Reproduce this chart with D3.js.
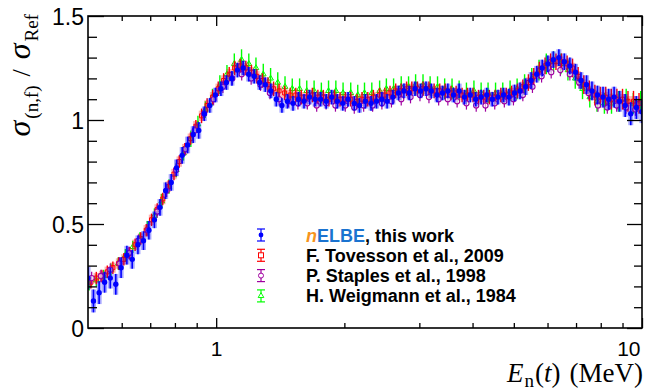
<!DOCTYPE html>
<html><head><meta charset="utf-8">
<script src="https://cdn.jsdelivr.net/npm/d3@7/dist/d3.min.js"></script>
<style>body{margin:0;background:#fff}svg{display:block}</style>
</head><body><svg id="c" width="658" height="392"></svg>
<script>
// ---------- axis ticks / labels ----------
const xMajorTicks = [1, 10];
const xTickLabels = ["1", "10"];
const xMinorTicks = [0.6, 0.7, 0.8, 0.9, 2, 3, 4, 5, 6, 7, 8, 9];
const yMajorTicks = [0, 0.5, 1, 1.5];
const yTickLabels = ["0", "0.5", "1", "1.5"];
const yMinorTicks = [0.1, 0.2, 0.3, 0.4, 0.6, 0.7, 0.8, 0.9, 1.1, 1.2, 1.3, 1.4];
const legendLabels = ["nELBE, this work", "F. Tovesson et al., 2009", "P. Staples et al., 1998", "H. Weigmann et al., 1984"];

// ---------- nELBE, this work ----------
const eNelbe = [0.500,0.515,0.531,0.547,0.564,0.581,0.598,0.617,0.635,0.655,
0.675,0.695,0.716,0.738,0.761,0.784,0.807,0.832,0.857,0.883,
0.910,0.938,0.966,0.996,1.026,1.057,1.089,1.122,1.157,1.192,
1.228,1.265,1.304,1.344,1.384,1.427,1.470,1.515,1.561,1.608,
1.657,1.707,1.759,1.813,1.868,1.925,1.983,2.04,2.11,2.17,
2.24,2.31,2.38,2.45,2.52,2.60,2.68,2.76,2.84,2.93,
3.02,3.11,3.20,3.30,3.40,3.50,3.61,3.72,3.83,3.95,
4.07,4.19,4.32,4.45,4.59,4.73,4.87,5.02,5.17,5.33,
5.49,5.66,5.83,6.01,6.19,6.38,6.57,6.77,6.98,7.19,
7.41,7.63,7.86,8.10,8.35,8.60,8.86,9.13,9.41,9.70,9.99];
const vNelbe = [0.24,0.13,0.17,0.22,0.24,0.21,0.29,0.35,0.33,0.40,
0.42,0.47,0.52,0.58,0.66,0.70,0.77,0.83,0.88,0.93,
0.95,1.03,1.07,1.12,1.15,1.18,1.20,1.24,1.25,1.22,
1.21,1.18,1.17,1.14,1.10,1.07,1.09,1.08,1.10,1.09,
1.11,1.10,1.10,1.09,1.11,1.09,1.08,1.10,1.08,1.07,
1.09,1.08,1.09,1.10,1.09,1.11,1.13,1.14,1.13,1.15,
1.14,1.15,1.14,1.12,1.13,1.14,1.12,1.14,1.11,1.12,
1.10,1.11,1.12,1.10,1.11,1.12,1.11,1.13,1.14,1.16,
1.19,1.22,1.25,1.27,1.29,1.30,1.28,1.26,1.23,1.19,
1.17,1.14,1.12,1.11,1.10,1.11,1.09,1.07,1.03,1.06,1.04];
const errNelbe = [0.055,0.055,0.055,0.05,0.05,0.05,0.05,0.045,0.045,0.045,
0.045,0.045,0.04,0.04,0.04,0.04,0.04,0.04,0.04,0.04,
0.04,0.035,0.035,0.035,0.035,0.035,0.035,0.035,0.035,0.035,
0.035,0.035,0.035,0.035,0.035,0.035,0.035,0.035,0.035,0.035,
0.035,0.035,0.035,0.035,0.035,0.035,0.035,0.035,0.035,0.035,
0.035,0.035,0.035,0.035,0.035,0.035,0.035,0.035,0.035,0.035,
0.035,0.035,0.035,0.035,0.035,0.035,0.035,0.035,0.035,0.035,
0.035,0.035,0.035,0.035,0.035,0.035,0.04,0.04,0.04,0.04,
0.04,0.04,0.04,0.04,0.04,0.04,0.04,0.04,0.04,0.04,
0.045,0.045,0.045,0.05,0.05,0.05,0.05,0.055,0.055,0.055,0.055];

// ---------- F. Tovesson et al., 2009 ----------
const eTovesson = [0.508,0.523,0.539,0.555,0.572,0.590,0.607,0.626,0.645,0.665,
0.685,0.705,0.727,0.749,0.772,0.796,0.819,0.844,0.870,0.896,
0.924,0.952,0.981,1.011,1.041,1.073,1.105,1.139,1.174,1.210,
1.246,1.284,1.323,1.364,1.405,1.448,1.492,1.538,1.584,1.632,
1.682,1.733,1.785,1.840,1.896,1.954,2.01,2.07,2.14,2.20,
2.27,2.34,2.42,2.49,2.56,2.64,2.72,2.80,2.88,2.97,
3.06,3.16,3.25,3.35,3.45,3.56,3.66,3.78,3.89,4.01,
4.13,4.25,4.38,4.52,4.66,4.80,4.94,5.10,5.25,5.41,
5.57,5.74,5.92,6.10,6.28,6.47,6.67,6.87,7.08,7.30,
7.52,7.75,7.98,8.22,8.47,8.73,9.00,9.27,9.55,9.84];
const vTovesson = [0.22,0.24,0.25,0.27,0.29,0.31,0.33,0.36,0.40,0.43,
0.47,0.52,0.57,0.62,0.68,0.74,0.80,0.86,0.91,0.97,
1.02,1.07,1.11,1.15,1.19,1.22,1.25,1.26,1.25,1.23,
1.21,1.19,1.17,1.15,1.14,1.13,1.12,1.12,1.11,1.11,
1.12,1.11,1.11,1.10,1.11,1.10,1.10,1.10,1.09,1.10,
1.10,1.11,1.12,1.12,1.13,1.14,1.14,1.15,1.15,1.15,
1.15,1.15,1.14,1.14,1.14,1.13,1.13,1.12,1.12,1.12,
1.11,1.11,1.11,1.11,1.12,1.12,1.13,1.14,1.16,1.18,
1.21,1.24,1.26,1.28,1.28,1.28,1.27,1.25,1.21,1.17,
1.14,1.12,1.11,1.11,1.10,1.10,1.10,1.09,1.09,1.08];
const errTovesson = [0.03,0.03,0.03,0.03,0.03,0.03,0.03,0.03,0.03,0.03,
0.03,0.03,0.03,0.03,0.03,0.03,0.03,0.03,0.03,0.03,
0.035,0.035,0.035,0.035,0.035,0.035,0.035,0.035,0.035,0.035,
0.035,0.035,0.035,0.035,0.035,0.035,0.035,0.035,0.035,0.035,
0.035,0.035,0.035,0.035,0.035,0.035,0.035,0.035,0.035,0.035,
0.035,0.035,0.035,0.035,0.035,0.035,0.035,0.035,0.035,0.035,
0.035,0.035,0.035,0.035,0.035,0.035,0.035,0.035,0.035,0.035,
0.035,0.035,0.035,0.035,0.035,0.035,0.035,0.035,0.035,0.04,
0.04,0.04,0.04,0.04,0.04,0.04,0.04,0.045,0.045,0.045,
0.05,0.05,0.05,0.05,0.05,0.05,0.05,0.05,0.05,0.05];
const sysTovesson = 0.025;

// ---------- P. Staples et al., 1998 ----------
const eStaples = [0.510,0.536,0.564,0.593,0.624,0.657,0.691,0.727,0.765,0.805,
0.847,0.891,0.937,0.986,1.037,1.091,1.148,1.208,1.271,1.337,
1.406,1.479,1.556,1.637,1.722,1.812,1.906,2.01,2.11,2.22,
2.33,2.45,2.58,2.72,2.86,3.01,3.16,3.33,3.50,3.68,
3.87,4.08,4.29,4.51,4.75,4.99,5.25,5.53,5.81,6.12,
6.43,6.77,7.12,7.49,7.88,8.29,8.72,9.17,9.65];
const vStaples = [0.24,0.25,0.28,0.31,0.36,0.42,0.47,0.56,0.66,0.76,
0.86,0.95,1.03,1.10,1.16,1.20,1.22,1.20,1.17,1.13,
1.10,1.09,1.08,1.08,1.07,1.08,1.07,1.07,1.06,1.07,
1.07,1.08,1.09,1.10,1.11,1.12,1.11,1.10,1.10,1.09,
1.08,1.07,1.07,1.08,1.09,1.10,1.12,1.16,1.21,1.23,
1.24,1.22,1.18,1.13,1.07,1.06,1.07,1.06,1.05];
const errStaples = [0.03,0.03,0.03,0.03,0.03,0.03,0.03,0.03,0.03,0.03,
0.03,0.03,0.03,0.03,0.03,0.03,0.03,0.03,0.03,0.03,
0.03,0.03,0.03,0.03,0.03,0.03,0.03,0.03,0.03,0.03,
0.03,0.03,0.03,0.03,0.03,0.03,0.03,0.03,0.03,0.03,
0.03,0.03,0.03,0.03,0.03,0.03,0.03,0.03,0.03,0.03,
0.03,0.03,0.03,0.03,0.03,0.03,0.03,0.03,0.03];

// ---------- H. Weigmann et al., 1984 ----------
const eWeigmann = [0.503,0.523,0.544,0.566,0.589,0.612,0.637,0.662,0.689,0.716,
0.745,0.775,0.806,0.838,0.872,0.906,0.943,0.980,1.020,1.060,
1.103,1.147,1.193,1.240,1.290,1.342,1.395,1.451,1.509,1.570,
1.632,1.698,1.766,1.836,1.910,1.986,2.07,2.15,2.23,2.32,
2.42,2.51,2.61,2.72,2.83,2.94,3.06,3.18,3.31,3.44,
3.58,3.72,3.87,4.03,4.19,4.35,4.53,4.71,4.90,5.09,
5.30,5.51,5.73,5.96,6.20,6.45,6.70,6.97,7.25,7.54,
7.84,8.16,8.48,8.82,9.18,9.54,9.93];
const vWeigmann = [0.21,0.23,0.25,0.28,0.31,0.35,0.39,0.43,0.48,0.54,
0.61,0.68,0.76,0.84,0.91,0.98,1.05,1.11,1.17,1.22,
1.27,1.29,1.27,1.25,1.22,1.20,1.18,1.16,1.15,1.15,
1.14,1.14,1.13,1.14,1.14,1.13,1.13,1.12,1.13,1.13,
1.14,1.15,1.15,1.16,1.16,1.17,1.17,1.16,1.16,1.15,
1.15,1.14,1.13,1.14,1.13,1.13,1.13,1.13,1.14,1.15,
1.17,1.20,1.24,1.27,1.28,1.27,1.24,1.20,1.15,1.11,
1.09,1.08,1.08,1.09,1.10,1.08,1.09];
const errWeigmann = [0.03,0.03,0.03,0.03,0.03,0.03,0.03,0.03,0.035,0.035,
0.035,0.035,0.035,0.035,0.04,0.04,0.04,0.04,0.045,0.045,
0.05,0.05,0.05,0.05,0.05,0.05,0.05,0.05,0.05,0.05,
0.05,0.05,0.05,0.05,0.05,0.05,0.05,0.05,0.05,0.05,
0.05,0.05,0.05,0.05,0.05,0.05,0.05,0.05,0.05,0.05,
0.05,0.05,0.05,0.05,0.05,0.05,0.05,0.05,0.05,0.05,
0.05,0.05,0.05,0.05,0.05,0.05,0.05,0.05,0.05,0.05,
0.05,0.05,0.05,0.05,0.05,0.05,0.05];

// ---------- layout ----------
const L = 88, R = 642, T = 16, B = 328;
const svg = d3.select("#c");
const x = d3.scaleLog().domain([0.5, 10]).range([L, R]);
const y = d3.scaleLinear().domain([0, 1.5]).range([B, T]);

svg.append("defs").append("clipPath").attr("id", "clip")
  .append("rect").attr("x", L).attr("y", T).attr("width", R - L).attr("height", B - T);
const plot = svg.append("g").attr("clip-path", "url(#clip)");

function pts(E, V, Err) {
  const n = Math.min(E.length, V.length, Err.length);
  const out = [];
  for (let i = 0; i < n; i++) out.push({e: E[i], v: V[i], err: Err[i], i});
  return out;
}

const COL_BLUE = "#0000ff", COL_RED = "#ff0000", COL_PURP = "#a000a0", COL_GREEN = "#00ff00";

// Weigmann (green): thin error bars, open triangles
(function () {
  const d = pts(eWeigmann, vWeigmann, errWeigmann);
  const g = plot.append("g");
  g.selectAll("line").data(d).join("line")
    .attr("x1", p => x(p.e)).attr("x2", p => x(p.e))
    .attr("y1", p => y(p.v - p.err)).attr("y2", p => y(p.v + p.err))
    .attr("stroke", COL_GREEN).attr("stroke-width", 1.4);
  g.selectAll("path").data(d).join("path")
    .attr("d", d3.symbol(d3.symbolTriangle, 14))
    .attr("transform", p => `translate(${x(p.e)},${y(p.v)})`)
    .attr("fill", "none").attr("stroke", COL_GREEN).attr("stroke-width", 1);
})();

// Tovesson (red): shaded boxes, error bars, open squares
(function () {
  const d = pts(eTovesson, vTovesson, errTovesson);
  const g = plot.append("g");
  const half = p => {
    const a = eTovesson[Math.max(p.i - 1, 0)], b = eTovesson[Math.min(p.i + 1, eTovesson.length - 1)];
    return Math.abs(x(b) - x(a)) / 4;
  };
  g.selectAll("rect").data(d).join("rect")
    .attr("x", p => x(p.e) - half(p)).attr("width", p => 2 * half(p))
    .attr("y", p => y(p.v + sysTovesson)).attr("height", p => y(p.v - sysTovesson) - y(p.v + sysTovesson))
    .attr("fill", COL_RED).attr("fill-opacity", 0.3);
  g.selectAll("line").data(d).join("line")
    .attr("x1", p => x(p.e)).attr("x2", p => x(p.e))
    .attr("y1", p => y(p.v - p.err)).attr("y2", p => y(p.v + p.err))
    .attr("stroke", COL_RED).attr("stroke-width", 1.4);
  g.selectAll("path").data(d).join("path")
    .attr("d", d3.symbol(d3.symbolSquare, 16))
    .attr("transform", p => `translate(${x(p.e)},${y(p.v)})`)
    .attr("fill", "none").attr("stroke", COL_RED).attr("stroke-width", 1);
})();

// Staples (purple): error bars, open circles
(function () {
  const d = pts(eStaples, vStaples, errStaples);
  const g = plot.append("g");
  g.selectAll("line").data(d).join("line")
    .attr("x1", p => x(p.e)).attr("x2", p => x(p.e))
    .attr("y1", p => y(p.v - p.err)).attr("y2", p => y(p.v + p.err))
    .attr("stroke", COL_PURP).attr("stroke-width", 1.2);
  g.selectAll("circle").data(d).join("circle")
    .attr("cx", p => x(p.e)).attr("cy", p => y(p.v)).attr("r", 2.6)
    .attr("fill", "#fff").attr("fill-opacity", 0.6).attr("stroke", COL_PURP).attr("stroke-width", 1.1);
})();

// nELBE (blue): translucent band + error bars + filled circles
(function () {
  const d = pts(eNelbe, vNelbe, errNelbe);
  const g = plot.append("g");
  g.selectAll("rect").data(d).join("rect")
    .attr("x", p => x(p.e) - 2.5).attr("width", 5)
    .attr("y", p => y(p.v + p.err)).attr("height", p => y(p.v - p.err) - y(p.v + p.err))
    .attr("fill", COL_BLUE).attr("fill-opacity", 0.35);
  g.selectAll("line").data(d).join("line")
    .attr("x1", p => x(p.e)).attr("x2", p => x(p.e))
    .attr("y1", p => y(p.v - p.err)).attr("y2", p => y(p.v + p.err))
    .attr("stroke", COL_BLUE).attr("stroke-width", 1.6);
  g.selectAll("circle").data(d).join("circle")
    .attr("cx", p => x(p.e)).attr("cy", p => y(p.v)).attr("r", 2.7)
    .attr("fill", COL_BLUE);
})();

// ---------- axes ----------
function clean(g) { g.select(".domain").remove(); g.selectAll("line").attr("stroke", "#000").attr("stroke-width", 1.3); }
const TICKFONT = "'Liberation Sans', Arial, Helvetica, sans-serif";

svg.append("g").attr("transform", `translate(0,${B})`)
  .call(d3.axisBottom(x).tickValues(xMinorTicks).tickSize(-5).tickFormat("")).call(clean);
const gxMaj = svg.append("g").attr("transform", `translate(0,${B})`)
  .call(d3.axisBottom(x).tickValues(xMajorTicks).tickSize(-10).tickPadding(13)
    .tickFormat((d, i) => xTickLabels[i])).call(clean);
gxMaj.selectAll("text").attr("font-family", TICKFONT).attr("font-size", 21).attr("fill", "#000")
  .attr("text-anchor", (d, i) => i === xMajorTicks.length - 1 ? "end" : "middle")
  .attr("dx", (d, i) => i === xMajorTicks.length - 1 ? -2 : 0);

svg.append("g").attr("transform", `translate(0,${T})`)
  .call(d3.axisTop(x).tickValues(xMinorTicks).tickSize(-5).tickFormat("")).call(clean);
svg.append("g").attr("transform", `translate(0,${T})`)
  .call(d3.axisTop(x).tickValues(xMajorTicks).tickSize(-10).tickFormat("")).call(clean);

svg.append("g").attr("transform", `translate(${L},0)`)
  .call(d3.axisLeft(y).tickValues(yMinorTicks).tickSize(-9).tickFormat("")).call(clean);
const gyMaj = svg.append("g").attr("transform", `translate(${L},0)`)
  .call(d3.axisLeft(y).tickValues(yMajorTicks).tickSize(-16).tickPadding(4)
    .tickFormat((d, i) => yTickLabels[i])).call(clean);
gyMaj.selectAll("text").attr("font-family", TICKFONT).attr("font-size", 23).attr("fill", "#000").attr("dy", "0.36em");

svg.append("g").attr("transform", `translate(${R},0)`)
  .call(d3.axisRight(y).tickValues(yMinorTicks).tickSize(-8).tickFormat("")).call(clean);
svg.append("g").attr("transform", `translate(${R},0)`)
  .call(d3.axisRight(y).tickValues(yMajorTicks).tickSize(-15).tickFormat("")).call(clean);

// frame
svg.append("rect").attr("x", L).attr("y", T).attr("width", R - L).attr("height", B - T)
  .attr("fill", "none").attr("stroke", "#000").attr("stroke-width", 1.6);

// ---------- axis titles ----------
const SERIF = "'Liberation Serif', 'Times New Roman', Times, serif";
const yt = svg.append("text").attr("transform", "translate(30,14) rotate(-90)")
  .attr("text-anchor", "end").attr("font-family", SERIF).attr("fill", "#000");
yt.append("tspan").attr("font-size", 32).attr("font-style", "italic").text("σ");
yt.append("tspan").attr("font-size", 19).attr("dy", 8).attr("dx", 2).text("(n,f)");
yt.append("tspan").attr("font-size", 26).attr("dy", -8).attr("dx", 9).text("/");
yt.append("tspan").attr("font-size", 32).attr("font-style", "italic").attr("dx", 10).text("σ");
yt.append("tspan").attr("font-size", 19).attr("dy", 8).attr("dx", 2).text("Ref");

const xt = svg.append("text").attr("x", 643).attr("y", 382).attr("text-anchor", "end")
  .attr("font-family", SERIF).attr("font-size", 27).attr("fill", "#000");
xt.append("tspan").attr("font-style", "italic").text("E");
xt.append("tspan").attr("font-size", 19).attr("dy", 5).attr("dx", 1).text("n");
xt.append("tspan").attr("dy", -5).attr("dx", 1).text("(");
xt.append("tspan").attr("font-style", "italic").text("t");
xt.append("tspan").text(")");
xt.append("tspan").attr("dx", 9).text("(MeV)");

// ---------- legend ----------
const legendColors = [COL_BLUE, COL_RED, COL_PURP, COL_GREEN];
const LEGX = 261, LEGY0 = 235, LEGDY = 20.3, TXTX = 306;
const leg = svg.append("g");
legendLabels.forEach((lab, i) => {
  const cy = LEGY0 + i * LEGDY, c = legendColors[i];
  const g = leg.append("g");
  g.append("line").attr("x1", LEGX).attr("x2", LEGX).attr("y1", cy - 6).attr("y2", cy + 6).attr("stroke", c).attr("stroke-width", 1.2);
  [cy - 6, cy + 6].forEach(yy => g.append("line").attr("x1", LEGX - 4).attr("x2", LEGX + 4).attr("y1", yy).attr("y2", yy).attr("stroke", c).attr("stroke-width", 1.2));
  if (i === 0) g.append("circle").attr("cx", LEGX).attr("cy", cy).attr("r", 2.4).attr("fill", c);
  if (i === 1) g.append("rect").attr("x", LEGX - 2.5).attr("y", cy - 2.5).attr("width", 5).attr("height", 5).attr("fill", "#fff").attr("stroke", c);
  if (i === 2) g.append("circle").attr("cx", LEGX).attr("cy", cy).attr("r", 2.5).attr("fill", "#fff").attr("stroke", c);
  if (i === 3) g.append("path").attr("d", d3.symbol(d3.symbolTriangle, 14)).attr("transform", `translate(${LEGX},${cy})`).attr("fill", "#fff").attr("stroke", c);
  const t = g.append("text").attr("x", TXTX).attr("y", cy + 6.5)
    .attr("font-family", TICKFONT).attr("font-weight", "bold").attr("font-size", 18).attr("fill", "#000");
  if (i === 0) {
    t.append("tspan").attr("fill", "#f7941d").attr("font-style", "italic").text(lab.slice(0, 1));
    t.append("tspan").attr("fill", "#1a73d0").text(lab.slice(1, 5));
    t.append("tspan").text(lab.slice(5));
  } else {
    t.text(lab);
  }
});
</script>
</body></html>
